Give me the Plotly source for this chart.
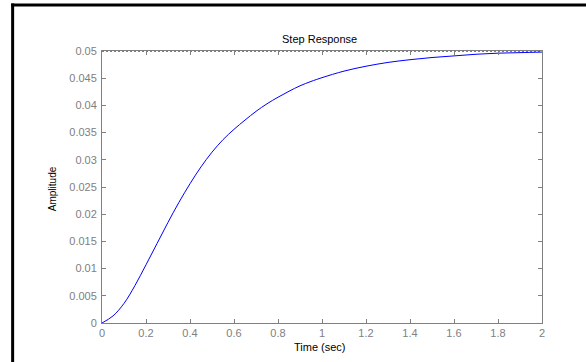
import plotly.graph_objects as go

# Data
time_s = [0, 0.05, 0.1, 0.15, 0.2, 0.25, 0.3, 0.35, 0.4, 0.45, 0.5, 0.55, 0.6, 0.65,
          0.7, 0.75, 0.8, 0.85, 0.9, 0.95, 1.0, 1.1, 1.2, 1.3, 1.4, 1.5, 1.6, 1.7,
          1.8, 1.9, 2.0]
amplitude = [0, 0.0013, 0.0036, 0.0069, 0.0107, 0.0146, 0.0185, 0.0222, 0.0256, 0.0287,
             0.0314, 0.0337, 0.0356, 0.0373, 0.0389, 0.0403, 0.0415, 0.0426, 0.0436,
             0.0444, 0.0451, 0.0463, 0.0472, 0.0479, 0.0484, 0.0488, 0.0491, 0.0494,
             0.0496, 0.0497, 0.0498]
final_value = 0.05
steady_t = [0, 2]
steady_v = [final_value, final_value]

x_ticks = [0, 0.2, 0.4, 0.6, 0.8, 1.0, 1.2, 1.4, 1.6, 1.8, 2.0]
x_tick_labels = ["0", "0.2", "0.4", "0.6", "0.8", "1", "1.2", "1.4", "1.6", "1.8", "2"]
y_ticks = [0, 0.005, 0.01, 0.015, 0.02, 0.025, 0.03, 0.035, 0.04, 0.045, 0.05]
y_tick_labels = ["0", "0.005", "0.01", "0.015", "0.02", "0.025", "0.03", "0.035",
                 "0.04", "0.045", "0.05"]

FONT = "Liberation Sans, Arial, sans-serif"
GRAY = "#808080"

fig = go.Figure()
fig.add_trace(go.Scatter(x=time_s, y=amplitude, mode="lines",
                         line=dict(color="#0000ff", width=1, shape="spline", smoothing=1.0),
                         showlegend=False, hoverinfo="skip"))
fig.add_trace(go.Scatter(x=steady_t, y=steady_v, mode="lines",
                         line=dict(color="#000000", width=1, dash="2px,2px"),
                         showlegend=False, hoverinfo="skip", cliponaxis=False))

axis_common = dict(showgrid=False, zeroline=False, showline=True, linecolor=GRAY,
                   linewidth=1, mirror="ticks", ticks="inside", ticklen=4,
                   tickcolor=GRAY, tickwidth=1,
                   tickfont=dict(family=FONT, size=11, color=GRAY))

fig.update_layout(
    width=586, height=362,
    margin=dict(l=102, r=44, t=51, b=39),
    paper_bgcolor="white", plot_bgcolor="white",
    xaxis=dict(range=[0, 2], tickvals=x_ticks, ticktext=x_tick_labels, **axis_common),
    yaxis=dict(range=[0, 0.05], tickvals=y_ticks, ticktext=y_tick_labels,
               ticklabelstandoff=2, **axis_common),
    annotations=[
        dict(text="Step Response", xref="paper", yref="paper", x=0.495, y=1.044,
             xanchor="center", yanchor="middle", showarrow=False,
             font=dict(family=FONT, size=11, color="#000000")),
        dict(text="Time (sec)", xref="paper", yref="paper", x=0.496, y=-0.0895,
             xanchor="center", yanchor="middle", showarrow=False,
             font=dict(family=FONT, size=11, color="#000000")),
        dict(text="Amplitude", xref="paper", yref="paper", x=-0.1117, y=0.495,
             xanchor="center", yanchor="middle", showarrow=False, textangle=-90,
             font=dict(family=FONT, size=10, color="#000000")),
    ],
    shapes=[
        dict(type="line", xref="paper", yref="paper", x0=-0.2065, x1=1.2,
             y0=1.1688, y1=1.1688, line=dict(color="#000000", width=3)),
        dict(type="line", xref="paper", yref="paper", x0=-0.2031, x1=-0.2031,
             y0=-0.3, y1=1.1743, line=dict(color="#000000", width=3)),
    ],
)

fig.write_html("out.html")
